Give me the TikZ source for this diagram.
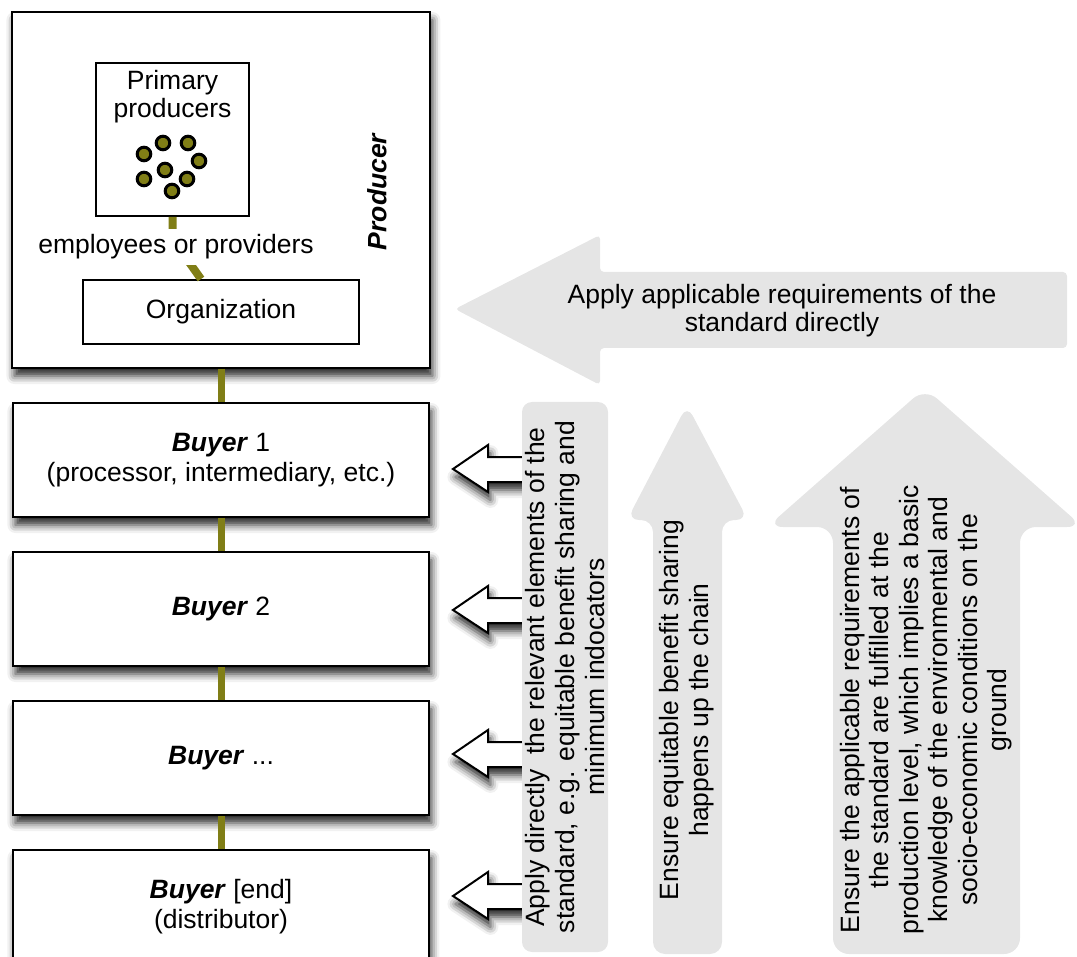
\documentclass[tikz,border=0pt]{standalone}
\usepackage{fontspec}
\setmainfont{Liberation Sans}
\usetikzlibrary{positioning}
\usetikzlibrary{shadows.blur}
\definecolor{olivelink}{RGB}{128,126,22}
\definecolor{panelgray}{RGB}{229,229,229}

\begin{document}
\begin{tikzpicture}[x=0.5pt,y=-0.5pt,%
  every node/.style={font=\fontsize{13.25}{15}\selectfont},
  box/.style={draw,line width=1pt,fill=white,minimum width=208pt,minimum height=57pt,align=center},
  shade/.style={blur shadow={shadow xshift=1.2pt,shadow yshift=-4pt,shadow blur radius=4pt,shadow opacity=85}},
  plain/.style={draw,line width=1pt,fill=white},
  link/.style={olivelink,line width=3.5pt},
  hollow/.style={draw,line width=1pt,fill=white,line join=miter},
  node distance=16.5pt]
  \useasboundingbox (0,0) rectangle (1077,957);
  % the chain
  \node[box,shade,minimum width=209pt,minimum height=178pt] (producer) at (221,190) {};
  \node[box,shade,below=of producer] (buyer1) {\textbf{\textit{Buyer}} 1\\(processor, intermediary, etc.)};
  \node[box,shade,below=of buyer1] (buyer2) {\textbf{\textit{Buyer}} 2};
  \node[box,shade,below=of buyer2] (buyer3) {\textbf{\textit{Buyer}} ...};
  \node[box,shade,below=of buyer3] (buyer4) {\textbf{\textit{Buyer}} [end]\\(distributor)};
  % inside the producer
  \node[plain,minimum size=76.5pt] (primary) at (172.5,139.5) {};
  \node[below=4pt of primary.north,inner sep=0pt,align=center,font=\fontsize{13.25}{14}\selectfont] (primarytxt) {Primary\\producers};
  \foreach \dx/\dy in {163/143,188/143,144/154,199/161,165/170,144/179,187/179,172/191}
    \filldraw[fill=olivelink,line width=1.5pt] (\dx,\dy) circle (6.8);
  \node[plain,minimum width=138pt,minimum height=32pt] (org) at (221,312) {Organization};
  \draw[link,line width=4pt] (primary.south) -- ++(0,22) -- ([xshift=-10pt]org.north);
  \node[fill=white,inner sep=3pt] (staff) at (176,247) {employees or providers};
  \node[rotate=90,font=\fontsize{13.25}{15}\selectfont\bfseries\itshape] (producerlabel) at (377,192) {Producer};
  % the links
  \draw[link] (producer) -- (buyer1);
  \draw[link] (buyer1) -- (buyer2);
  \draw[link] (buyer2) -- (buyer3);
  \draw[link] (buyer3) -- (buyer4);
  % hollow arrows to the buyers
  \foreach \y in {469,610,754,896}
    \filldraw[hollow,shade] (530,\y-12) -- (488,\y-12) -- (488,\y-24) -- (453,\y) -- (488,\y+23) -- (488,\y+13) -- (530,\y+13);
  % the grey panels
  \node[fill=panelgray,rounded corners=5pt,rotate=90,minimum width=275pt,minimum height=43pt,inner ysep=0pt,align=center] (direct) at (565,677)
    {Apply directly\ \ the relevant elements of the\\standard, e.g. equitable benefit sharing and\\minimum indocators};
  \fill[panelgray,rounded corners=6pt] (653,954) -- (653,520) -- (627,520) -- (687,405) -- (748,520) -- (722,520) -- (722,954) -- cycle;
  \node[rotate=90,align=center] (sharing) at (687,710) {Ensure equitable benefit sharing\\happens up the chain};
  \fill[panelgray,rounded corners=8pt] (833,954) -- (833,527) -- (767,527) -- (925,388) -- (1083,527) -- (1020,527) -- (1020,954) -- cycle;
  \node[rotate=90,align=center,font=\fontsize{13.25}{14.75}\selectfont] (ground) at (926,710)
    {Ensure the applicable requirements of\\the standard are fulfilled at the\\production level, which implies a basic\\knowledge of the environmental and\\socio-economic conditions on the\\ground};
  \fill[panelgray,rounded corners=2pt] (1067,272) -- (600,272) -- (600,235) -- (455,309) -- (600,385) -- (600,348) -- (1067,348) -- cycle;
  \node[align=center,font=\fontsize{13.25}{14}\selectfont] (applytxt) at (782,311) {Apply applicable requirements of the\\standard directly};
\end{tikzpicture}
\end{document}
